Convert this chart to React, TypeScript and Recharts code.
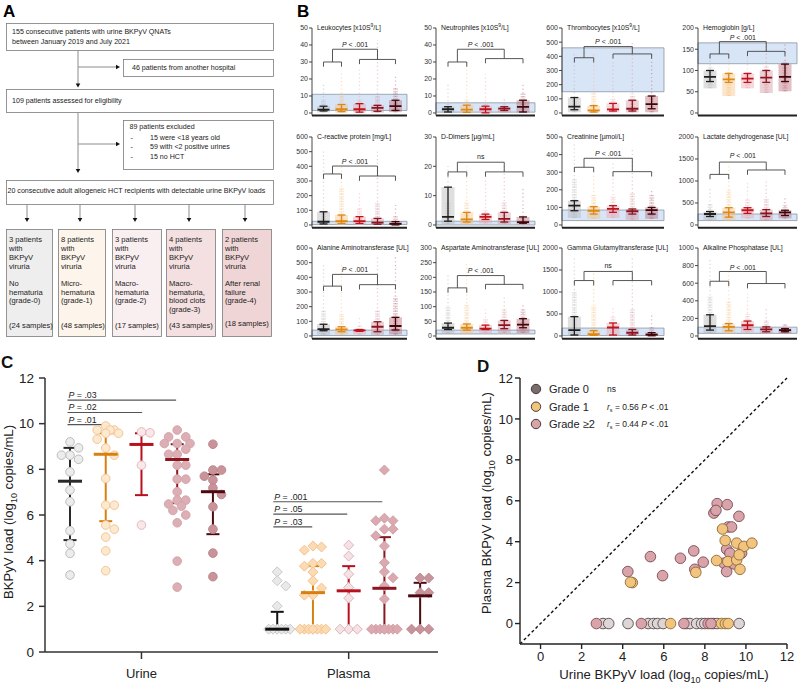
import React from 'react';
import { ComposedChart, Scatter, XAxis, YAxis, ErrorBar, ReferenceArea, ReferenceLine } from 'recharts';

const FONT = '"Liberation Sans", Arial, Helvetica, sans-serif';

// ---------------- Panel B data ----------------
const labTitles = [
  'Leukocytes [x10S^9/L]', 'Neutrophiles [x10S^9/L]', 'Thrombocytes [x10S^9/L]', 'Hemoglobin [g/L]',
  'C-reactive protein [mg/L]', 'D-Dimers [µg/mL]', 'Creatinine [µmol/L]', 'Lactate dehydrogenase [UL]',
  'Alanine Aminotransferase [UL]', 'Aspartate Aminotransferase [UL]', 'Gamma Glutamyltransferase [UL]', 'Alkaline Phosphatase [UL]',
];
const labMax = [50, 50, 600, 200, 600, 30, 500, 2000, 600, 300, 2000, 1000];
const labStep = [10, 10, 100, 50, 100, 10, 100, 500, 100, 50, 500, 200];
const labRefLo = [1.5, 0.5, 150, 116, 3, 0, 25, 100, 3, 7, 10, 30];
const labRefHi = [11, 6, 460, 165, 25, 1.3, 85, 250, 40, 20, 180, 100];
const labMedian = [
  [2, 2.2, 2.2, 3, 4], [2.2, 2, 2.2, 2.6, 3.6], [45, 18, 25, 30, 63], [85, 79, 81, 83, 85],
  [22, 27, 27, 16, 7], [2.75, 1.9, 2.75, 2.1, 1.0], [110, 81, 91, 78, 85], [250, 286, 335, 264, 286],
  [47, 45, 38, 63, 68], [28, 28, 25, 37, 39], [133, 44, 193, 74, 30], [111, 104, 122, 74, 67],
];
const labQ1 = [
  [1.2, 0.8, 0.5, 1, 1.5], [0.6, 0.4, 0.1, 1.5, 0.6], [23, 7, 14, 14, 30], [74, 72, 72, 72, 74],
  [7, 11, 11, 5, 0.5], [1.3, 1.0, 1.9, 1.0, 0.6], [81, 62, 72, 62, 62], [193, 178, 264, 193, 214],
  [36, 29, 32, 29, 41], [22, 20, 22, 25, 28], [22, 15, 22, 22, 5], [67, 59, 74, 48, 48],
];
const labQ3 = [
  [4, 5, 5.5, 4.5, 7.5], [3.7, 4.6, 4, 3.7, 7.5], [109, 52, 68, 90, 120], [100, 93, 93, 100, 115],
  [90, 68, 57, 45, 23], [12.9, 4.3, 3.7, 4.3, 2.75], [138, 104, 110, 91, 100], [306, 393, 393, 350, 335],
  [80, 63, 44, 97, 127], [44, 41, 37, 53, 59], [440, 122, 296, 148, 75], [241, 141, 170, 104, 83],
];
const labCloudMin = [
  [0.3, 0.2, 0.2, 0.2, 0.5], [0.2, 0.2, 0.1, 0.5, 0.3], [5, 3, 3, 3, 5], [58, 40, 58, 47, 51],
  [1, 1, 1, 1, 0.5], [0.3, 0.3, 0.5, 0.3, 0.2], [40, 35, 40, 30, 35], [100, 100, 150, 100, 150],
  [8, 8, 10, 8, 10], [8, 8, 10, 10, 10], [5, 5, 5, 5, 5], [30, 30, 40, 30, 30],
];
const labDenseTop = [
  [8, 12, 8, 10, 15], [5, 8, 6, 5, 12], [100, 150, 100, 130, 130], [110, 100, 95, 110, 120],
  [100, 250, 120, 150, 60], [8, 8, 5, 8, 3], [260, 170, 160, 180, 170], [500, 800, 600, 600, 450],
  [173, 150, 70, 177, 268], [100, 110, 60, 90, 90], [1000, 700, 450, 600, 200], [450, 400, 250, 180, 130],
];
const labCloudMax = [
  [18, 25, 26, 43, 22], [17, 30, 23, 8, 18], [415, 415, 380, 506, 415], [145, 148, 134, 171, 164],
  [510, 420, 227, 500, 136], [20.3, 20.3, 15.6, 20.3, 12.6], [470, 300, 350, 440, 200], [850, 1350, 950, 1000, 650],
  [485, 490, 125, 550, 550], [210, 255, 90, 130, 110], [1780, 1450, 700, 1800, 500], [870, 730, 480, 330, 150],
];
const labBracketL = [30, 30, 390, 139, 348, 18.1, 328, 1150, 340, 164, 1260, 622];
const labBracketR = [31.5, 32, 417, 145, 334, 18.1, 303, 1250, 350, 176, 1260, 596];
const labBracketTop = [37.5, 37.5, 469, 168, 402, 21.4, 379, 1430, 420, 206, 1467, 733];
const labPLevel = [40.5, 40.5, 505, 178, 436, 23.5, 405, 1590, 450, 222, 1600, 778];
const labSig = ['P < .001', 'P < .001', 'P < .001', 'P < .001', 'P < .001', 'ns', 'P < .001', 'P < .001', 'P < .001', 'P < .001', 'ns', 'P < .001'];

const grpLine = ['#1e1e1e', '#de8712', '#c1121c', '#8c1420', '#3f0508'];
const grpCloud = ['#b0b0b0', '#f4bd7c', '#eba1a8', '#cf8e99', '#b6606e'];

const colAxisX = [312, 436, 562, 698];
const colPlotW = [95, 99, 102, 99];
const rowTopY = [28, 137, 248];
const rowZeroY = [113, 225, 336];

// ---------------- Panel C data ----------------
const sampleTypes = ['Urine', 'Plasma'];
const urineX = [1, 2, 3, 4, 5];
const plasmaX = [6.8, 7.8, 8.8, 9.8, 10.8];
const urineVals = [
  [9.2, 8.94, 8.62, 8.62, 8.44, 7.89, 7.09, 6.58, 5.31, 4.73, 4.32, 3.37],
  [9.9, 9.72, 9.72, 9.72, 9.58, 9.58, 9.32, 8.93, 8.62, 7.6, 6.43, 6.43, 5.56, 5.38, 5.03, 4.43, 3.56],
  [9.64, 9.6, 8.18, 5.56],
  [9.72, 9.42, 9.42, 9.13, 9.13, 9.13, 8.88, 8.66, 8.66, 8.18, 8.18, 7.57, 7.57, 7.02, 6.65, 6.65, 6.48, 6.39, 6.2, 6.0, 5.66, 3.98, 2.84],
  [9.1, 7.97, 7.97, 7.7, 7.53, 7.18, 6.9, 6.36, 5.38, 4.33, 3.3],
];
const urineMean = [7.48, 8.66, 9.09, 8.43, 7.02];
const urineLow = [4.9, 5.73, 6.87, 6.52, 5.16];
const urineHigh = [8.94, 9.58, 9.58, 9.1, 7.78];
const plasmaVals = [
  [3.51, 3.12, 2.89, 2.01, 1, 1, 1, 1, 1, 1],
  [4.64, 4.6, 4.46, 3.88, 3.88, 3.76, 3.5, 3.12, 2.8, 2.49, 2.49, 1, 1, 1, 1, 1, 1, 1, 1],
  [4.68, 4.2, 3.41, 2.83, 2.36, 1, 1, 1],
  [7.97, 5.86, 5.75, 5.75, 5.38, 5.38, 5.09, 4.64, 3.91, 3.51, 3.25, 2.89, 2.32, 1, 1, 1, 1, 1, 1, 1, 1],
  [3.24, 3.24, 2.6, 2.6, 1, 1, 1],
];
const plasmaMean = [1.0, 2.6, 2.68, 2.79, 2.46];
const plasmaLow = [1, 1, 1, 1, 1];
const plasmaHigh = [1.76, 3.76, 3.76, 5.03, 3.03];
const cErr = ['#2a2a2a', '#d8800f', '#b8101c', '#8a1622', '#4c0a10'];
const cUrineFill = ['#ececec', '#fde8d0', '#f9e7e9', '#dcafb5', '#c9939a'];
const cUrineStroke = ['#bdbdbd', '#f3c794', '#e4b9be', '#d5a5ac', '#c08890'];
const cPlasmaFill = ['#e9e9e9', '#fbdab6', '#f6e2e5', '#dba9b0', '#c8949b'];
const cPlasmaStroke = ['#c9c9c9', '#f6c38a', '#dcb6bb', '#d3a0a7', '#bf8b92'];
const sigLabels = ['P = .03', 'P = .02', 'P = .01', 'P = .001', 'P = .05', 'P = .03'];
const sigFrom = [0.93, 0.93, 0.93, 6.69, 6.69, 6.69];
const sigTo = [3.97, 3.02, 2.01, 9.74, 8.76, 7.78];
const sigLevel = [11.03, 10.49, 9.96, 6.58, 6.04, 5.48];

// ---------------- Panel D data ----------------
const dGrade0 = [[3.04, 0], [3.32, 0], [4.26, 0], [5.24, 0], [5.5, 0], [5.7, 0], [5.97, 0], [7.1, 0], [7.27, 0], [7.6, 0], [7.84, 0], [8.0, 0], [8.41, 0], [8.6, 0], [9.67, 0]];
const dGrade1 = [[6.33, 0], [8.81, 0], [9.0, 0], [9.14, 0], [8.86, 4.62], [8.99, 4.06], [9.55, 3.93], [9.9, 3.77], [10.29, 3.93], [8.57, 3.08], [9.12, 3.03], [9.55, 3.11], [9.67, 3.36], [9.71, 2.65], [7.56, 2.5], [4.47, 2.0], [4.38, 2.02]];
const dGrade2 = [[2.72, 0], [4.91, 0], [6.98, 0], [8.16, 0], [8.3, 0], [8.6, 5.86], [8.44, 5.4], [8.54, 5.53], [9.09, 5.81], [9.66, 5.24], [9.14, 4.72], [9.3, 4.72], [5.35, 3.27], [6.81, 3.19], [7.46, 3.55], [7.92, 3.0], [7.51, 2.65], [5.94, 2.34], [9.06, 3.63], [9.22, 3.44], [8.93, 2.95], [9.06, 2.54], [9.43, 2.91], [9.79, 3.44], [4.25, 2.54]];
const dLegend = ['Grade 0', 'Grade 1', 'Grade ≥2'];
const dLegendFill = ['#7b6c6c', '#f3c47d', '#d9a3aa'];
const dLegendStat = ['ns', '0.56', '0.44'];
const dTicks = [0, 2, 4, 6, 8, 10, 12];

// ---------------- Panel A text ----------------
const gradeBoxLines = [
  ['3 patients', 'with', 'BKPyV', 'viruria', '', 'No', 'hematuria', '(grade-0)'],
  ['8 patients', 'with', 'BKPyV', 'viruria', '', 'Micro-', 'hematuria', '(grade-1)'],
  ['3 patients', 'with', 'BKPyV', 'viruria', '', 'Macro-', 'hematuria', '(grade-2)'],
  ['4 patients', 'with', 'BKPyV', 'viruria', '', 'Macro-', 'hematuria,', 'blood clots', '(grade-3)'],
  ['2 patients', 'with', 'BKPyV', 'viruria', '', 'After renal', 'failure', '(grade-4)'],
];
const gradeSamples = ['(24 samples)', '(48 samples)', '(17 samples)', '(43 samples)', '(18 samples)'];
const gradeFill = ['#eeeeee', '#fdf5eb', '#f9eef0', '#f4e0e1', '#efd5d6'];

function PanelA() {
  const t = { fontFamily: FONT, fontSize: 7.1, fill: '#222' } as any;
  const g = { fontFamily: FONT, fontSize: 7.6, fill: '#222' } as any;
  const lineY = [239.7, 248.5, 257.3, 266.1, 274.7, 283.3, 291.8, 300.3, 309];
  const bx = [6.5, 58.5, 112.5, 166.5, 222.5];
  const bw = [46, 47, 49, 49, 49];
  const ax = [27, 80, 135, 189, 245];
  const arrowDown = (x: number, tip: number) => <polygon points={`${x - 2.3},${tip - 4} ${x + 2.3},${tip - 4} ${x},${tip}`} fill="#111" />;
  const arrowRight = (tip: number, y: number) => <polygon points={`${tip - 4},${y - 2.3} ${tip - 4},${y + 2.3} ${tip},${y}`} fill="#111" />;
  return (
    <svg width={330} height={345} style={{ position: 'absolute', left: 0, top: 0 }}>
      <text x={3} y={17} fontFamily={FONT} fontWeight="bold" fontSize={17}>A</text>
      <text x={297} y={17} fontFamily={FONT} fontWeight="bold" fontSize={17}>B</text>
      <g stroke="#8c8c8c" strokeWidth={1}>
        <line x1={78} y1={50.5} x2={78} y2={84} />
        <line x1={78} y1={67} x2={116} y2={67} />
        <line x1={78} y1={112.5} x2={78} y2={169} />
        <line x1={78} y1={144} x2={116} y2={144} />
        {ax.map((x) => <line key={x} x1={x} y1={204.5} x2={x} y2={218} />)}
      </g>
      {arrowDown(78, 87.5)}
      {arrowRight(120, 67)}
      {arrowDown(78, 173)}
      {arrowRight(120, 144)}
      {ax.map((x) => <g key={'a' + x}>{arrowDown(x, 222)}</g>)}
      <g fill="#fff" stroke="#7a7a7a" strokeWidth={0.8}>
        <rect x={6.5} y={23.5} width={267} height={27} />
        <rect x={123.5} y={59.5} width={150} height={17} />
        <rect x={6.5} y={89.5} width={267} height={23} />
        <rect x={123.5} y={120.5} width={150} height={49} />
        <rect x={6.5} y={180.5} width={267} height={24} />
      </g>
      <text {...t} x={12} y={34.3}>155 consecutive patients with urine BKPyV QNATs</text>
      <text {...t} x={12} y={44.3}>between January 2019 and July 2021</text>
      <text {...t} x={132} y={70}>46 patients from another hospital</text>
      <text {...t} x={12} y={103.3}>109 patients assessed for eligibility</text>
      <text {...t} x={129.5} y={129.4}>89 patients excluded</text>
      {['15 were <18 years old', '59 with <2 positive urines', '15 no HCT'].map((s, k) => (
        <g key={s}>
          <text {...t} x={130.5} y={140 + k * 9.35}>-</text>
          <text {...t} x={150} y={140 + k * 9.35}>{s}</text>
        </g>
      ))}
      <text {...t} x={7.5} y={192.7}>20 consecutive adult allogeneic HCT recipients with detectable urine BKPyV loads</text>
      {gradeBoxLines.map((lines, k) => (
        <g key={'gb' + k}>
          <rect x={bx[k]} y={229.5} width={bw[k]} height={107} fill={gradeFill[k]} stroke="#7a7a7a" strokeWidth={0.8} />
          {lines.map((s, j) => s ? <text key={j} {...g} x={bx[k] + 2.5} y={lineY[j] + 2.7}>{s}</text> : null)}
          <text {...g} x={bx[k] + 2.5} y={(k === 4 ? 323 : 325.3) + 2.7}>{gradeSamples[k]}</text>
        </g>
      ))}
    </svg>
  );
}

function TitleText({ s }: { s: string }) {
  const k = s.indexOf('^');
  if (k < 0) return <>{s}</>;
  return (
    <>
      {s.slice(0, k)}
      <span style={{ fontSize: '5px', position: 'relative', top: '-3px' }}>{s[k + 1]}</span>
      {s.slice(k + 2)}
    </>
  );
}

function LabChart({ i }: { i: number }) {
  const col = i % 4;
  const row = Math.floor(i / 4);
  const max = labMax[i];
  const axisX = colAxisX[col];
  const plotW = colPlotW[col];
  const top = rowTopY[row];
  const span = rowZeroY[row] - top;
  const lo = -0.03 * max;
  const plotH = span * 1.03;
  const YW = 32, MT = 6, XH = 2, MR = 3;
  const ticks: number[] = [];
  for (let v = 0; v <= max + 1e-9; v += labStep[i]) ticks.push(v);
  const t = max * 0.055;
  const L = labBracketL[i], R = labBracketR[i], T = labBracketTop[i];
  const segs = [
    [[1, L], [2, L]], [[1, L], [1, L - t]], [[2, L], [2, L - t]],
    [[3, R], [5, R]], [[3, R], [3, R - t]], [[5, R], [5, R - t]],
    [[1.5, L], [1.5, T]], [[4, R], [4, T]], [[1.5, T], [4, T]],
  ];
  const groups = [0, 1, 2, 3, 4].map((gi) => {
    const med = labMedian[i][gi];
    const mn = labCloudMin[i][gi];
    return {
      x: gi + 1,
      y: med,
      core: [med - mn, labQ3[i][gi] - med],
      dense: [med - mn, labDenseTop[i][gi] - med],
      sparse: [med - mn, labCloudMax[i][gi] - med],
      iqr: [med - labQ1[i][gi], labQ3[i][gi] - med],
    };
  });
  const sig = labSig[i];
  return (
    <>
      <div style={{ position: 'absolute', left: axisX - YW, top: top - MT }}>
        <ComposedChart width={YW + plotW + MR} height={MT + plotH + XH} margin={{ top: MT, right: MR, bottom: 0, left: 0 }}>
          <XAxis type="number" dataKey="x" domain={[0.36, 5.64]} allowDataOverflow tick={false} tickLine={false} height={XH} axisLine={{ stroke: '#222', strokeWidth: 2 }} />
          <YAxis type="number" dataKey="y" domain={[lo, max]} ticks={ticks} interval={0} allowDataOverflow width={YW} tickSize={3} tickMargin={1}
            tick={{ fontSize: 7, fill: '#333', fontFamily: FONT }} axisLine={{ stroke: '#333', strokeWidth: 0.9 }} tickLine={{ stroke: '#333', strokeWidth: 0.9 }} />
          <ReferenceArea x1={0.36} x2={5.64} y1={labRefLo[i]} y2={labRefHi[i]} fill="#d7e5f6" fillOpacity={1} stroke="#8b97a4" strokeWidth={0.8} ifOverflow="visible" />
          {groups.map((gp, gi) => (
            <Scatter key={'g' + gi} data={[gp]} dataKey="y" isAnimationActive={false}
              shape={(p: any) => <line x1={p.cx - 6} x2={p.cx + 6} y1={p.cy} y2={p.cy} stroke={grpLine[gi]} strokeWidth={1.8} />}>
              <ErrorBar dataKey="sparse" direction="y" width={0} stroke={grpCloud[gi]} strokeWidth={1.3} strokeOpacity={0.45} strokeDasharray="1.2 2.6" />
              <ErrorBar dataKey="dense" direction="y" width={0} stroke={grpCloud[gi]} strokeWidth={5} strokeOpacity={0.3} strokeDasharray="1.5 1" />
              <ErrorBar dataKey="core" direction="y" width={0} stroke={grpCloud[gi]} strokeWidth={13} strokeOpacity={0.4} />
              <ErrorBar dataKey="iqr" direction="y" width={4} stroke={grpLine[gi]} strokeWidth={1.3} />
            </Scatter>
          ))}
          {segs.map((s, k) => (
            <ReferenceLine key={'s' + k} segment={[{ x: s[0][0], y: s[0][1] }, { x: s[1][0], y: s[1][1] }]} stroke="#444" strokeWidth={0.9} ifOverflow="visible" />
          ))}
          <Scatter data={[{ x: 2.75, y: labPLevel[i] }]} dataKey="y" isAnimationActive={false}
            shape={(p: any) => (
              <text x={p.cx} y={p.cy + 2.5} textAnchor="middle" fontSize={7} fontFamily={FONT} fill="#222">
                {sig === 'ns' ? 'ns' : (<><tspan fontStyle="italic">P</tspan>{sig.slice(1)}</>)}
              </text>
            )} />
        </ComposedChart>
      </div>
      <div style={{ position: 'absolute', left: axisX + 5, top: top - 4, fontFamily: FONT, fontSize: 6.9, lineHeight: '8px', color: '#222', whiteSpace: 'nowrap', letterSpacing: '-0.05px' }}>
        <TitleText s={labTitles[i]} />
      </div>
    </>
  );
}

function swarm(vals: number[], base: number, step: number) {
  const pxX = 35.7, pxY = 22.85, minD = 7.5;
  const placed: { x: number; y: number }[] = [];
  const cands = [0, 2, -2, 1, -1, 3, -3];
  return vals.map((v) => {
    let best = 0, bestD = -1;
    for (const c of cands) {
      const dx = c * step;
      let d = Infinity;
      for (const p of placed) {
        const dd = Math.hypot((p.x - dx) * pxX, (p.y - v) * pxY);
        if (dd < d) d = dd;
      }
      if (d >= minD) { best = c; bestD = d; break; }
      if (d > bestD) { bestD = d; best = c; }
    }
    placed.push({ x: best * step, y: v });
    return { x: base + best * step, y: v };
  });
}

function PanelC() {
  const circle = (fill: string, stroke: string) => (p: any) => <circle cx={p.cx} cy={p.cy} r={4.3} fill={fill} stroke={stroke} strokeWidth={1} />;
  const diamond = (fill: string, stroke: string) => (p: any) => (
    <polygon points={`${p.cx},${p.cy - 5} ${p.cx + 5},${p.cy} ${p.cx},${p.cy + 5} ${p.cx - 5},${p.cy}`} fill={fill} stroke={stroke} strokeWidth={1} />
  );
  const meanShape = (c: string) => (p: any) => <line x1={p.cx - 12} x2={p.cx + 12} y1={p.cy} y2={p.cy} stroke={c} strokeWidth={3} />;
  const tickFmt = (v: number) => (v < 5 ? sampleTypes[0] : sampleTypes[1]);
  return (
    <div style={{ position: 'absolute', left: 0, top: 365 }}>
      <ComposedChart width={445} height={321} margin={{ top: 13, right: 7, bottom: 0, left: 0 }}>
        <XAxis type="number" dataKey="x" domain={[0.3, 11.3]} allowDataOverflow ticks={[3, 8.8]} interval={0} tickFormatter={tickFmt}
          height={34} tickSize={7} tickMargin={10} tick={{ fontSize: 13, fill: '#222', fontFamily: FONT }}
          axisLine={{ stroke: '#333', strokeWidth: 1.5 }} tickLine={{ stroke: '#333', strokeWidth: 1.5 }} />
        <YAxis type="number" dataKey="y" domain={[0, 12]} allowDataOverflow ticks={[0, 2, 4, 6, 8, 10, 12]} interval={0} width={45}
          tickSize={6} tickMargin={5} tick={{ fontSize: 13.5, fill: '#222', fontFamily: FONT }}
          axisLine={{ stroke: '#333', strokeWidth: 1.5 }} tickLine={{ stroke: '#333', strokeWidth: 1.5 }} />
        {urineVals.map((vals, g) => (
          <Scatter key={'u' + g} data={swarm(vals, urineX[g], 0.12)} dataKey="y" isAnimationActive={false} shape={circle(cUrineFill[g], cUrineStroke[g])} />
        ))}
        {plasmaVals.map((vals, g) => (
          <Scatter key={'p' + g} data={swarm(vals, plasmaX[g], 0.12)} dataKey="y" isAnimationActive={false} shape={diamond(cPlasmaFill[g], cPlasmaStroke[g])} />
        ))}
        {urineMean.map((m, g) => (
          <Scatter key={'um' + g} data={[{ x: urineX[g], y: m, err: [m - urineLow[g], urineHigh[g] - m] }]} dataKey="y" isAnimationActive={false} shape={meanShape(cErr[g])}>
            <ErrorBar dataKey="err" direction="y" width={6.5} stroke={cErr[g]} strokeWidth={2} />
          </Scatter>
        ))}
        {plasmaMean.map((m, g) => (
          <Scatter key={'pm' + g} data={[{ x: plasmaX[g], y: m, err: [m - plasmaLow[g], plasmaHigh[g] - m] }]} dataKey="y" isAnimationActive={false} shape={meanShape(g === 0 ? '#111' : cErr[g])}>
            <ErrorBar dataKey="err" direction="y" width={6.5} stroke={g === 0 ? '#111' : cErr[g]} strokeWidth={2} />
          </Scatter>
        ))}
        {sigLabels.map((s, k) => (
          <ReferenceLine key={'sl' + k} segment={[{ x: sigFrom[k], y: sigLevel[k] }, { x: sigTo[k], y: sigLevel[k] }]} stroke="#555" strokeWidth={1.1} ifOverflow="visible" />
        ))}
        {sigLabels.map((s, k) => (
          <Scatter key={'st' + k} data={[{ x: sigFrom[k], y: sigLevel[k] }]} dataKey="y" isAnimationActive={false}
            shape={(p: any) => (
              <text x={p.cx + 1} y={p.cy - 2} fontSize={8.8} fontFamily={FONT} fill="#222">
                <tspan fontStyle="italic">P</tspan>{s.slice(1)}
              </text>
            )} />
        ))}
      </ComposedChart>
    </div>
  );
}

function PanelD() {
  const dot = (fill: string, stroke: string) => (p: any) => <circle cx={p.cx} cy={p.cy} r={5.3} fill={fill} stroke={stroke} strokeWidth={0.9} />;
  const toPts = (arr: number[][]) => arr.map((a) => ({ x: a[0], y: a[1] }));
  return (
    <div style={{ position: 'absolute', left: 480, top: 365 }}>
      <ComposedChart width={317} height={321} margin={{ top: 13, right: 10, bottom: 0, left: 0 }}>
        <XAxis type="number" dataKey="x" domain={[-1, 12]} allowDataOverflow ticks={dTicks} interval={0} height={42}
          tickSize={5} tickMargin={3} tick={{ fontSize: 13, fill: '#222', fontFamily: FONT }}
          axisLine={{ stroke: '#222', strokeWidth: 1.4 }} tickLine={{ stroke: '#222', strokeWidth: 1.4 }} />
        <YAxis type="number" dataKey="y" domain={[-1, 12]} allowDataOverflow ticks={dTicks} interval={0} width={40}
          tickSize={5} tickMargin={2} tick={{ fontSize: 13, fill: '#222', fontFamily: FONT }}
          axisLine={{ stroke: '#222', strokeWidth: 1.4 }} tickLine={{ stroke: '#222', strokeWidth: 1.4 }} />
        <ReferenceLine segment={[{ x: -1, y: -1 }, { x: 12, y: 12 }]} stroke="#111" strokeWidth={1.4} strokeDasharray="3 2.5" ifOverflow="visible" />
        <Scatter data={toPts(dGrade0)} dataKey="y" isAnimationActive={false} shape={dot('#dcd6d6', '#5a4646')} />
        <Scatter data={toPts(dGrade2)} dataKey="y" isAnimationActive={false} shape={dot('#d9a3aa', '#7a4a50')} />
        <Scatter data={toPts(dGrade1)} dataKey="y" isAnimationActive={false} shape={dot('#f3c47d', '#8a6a3a')} />
      </ComposedChart>
    </div>
  );
}

function PanelDLegend() {
  const ys = [9, 26.7, 44];
  return (
    <svg width={170} height={55} style={{ position: 'absolute', left: 525, top: 380 }}>
      {dLegend.map((s, k) => (
        <g key={s}>
          <circle cx={11} cy={ys[k]} r={4.7} fill={dLegendFill[k]} stroke="#3a2a2a" strokeWidth={0.9} />
          <text x={24} y={ys[k] + 4} fontSize={11} fontFamily={FONT} fill="#222">{s}</text>
          {k === 0 ? (
            <text x={82} y={ys[k] + 3} fontSize={8.5} fontFamily={FONT} fill="#222">{dLegendStat[k]}</text>
          ) : (
            <text x={82} y={ys[k] + 3} fontSize={8.5} fontFamily={FONT} fill="#222">
              <tspan fontStyle="italic">r</tspan><tspan fontSize={5.5} dy={1.8}>s</tspan><tspan dy={-1.8}> = {dLegendStat[k]} </tspan><tspan fontStyle="italic">P</tspan> &lt; .01
            </text>
          )}
        </g>
      ))}
    </svg>
  );
}

export default function App() {
  const lbl = { position: 'absolute', fontFamily: FONT, fontWeight: 'bold', fontSize: 17, color: '#111' } as any;
  const rot = (cx: number, cy: number, size: number) => ({
    position: 'absolute', left: cx, top: cy, transform: 'translate(-50%, -50%) rotate(-90deg)', whiteSpace: 'nowrap',
    fontFamily: FONT, fontSize: size, color: '#222',
  } as any);
  return (
    <div style={{ position: 'absolute', left: 0, top: 0, width: 800, height: 686, background: '#fff', overflow: 'hidden', fontFamily: FONT }}>
      <PanelA />
      {labTitles.map((_, i) => <LabChart key={i} i={i} />)}
      <PanelC />
      <PanelD />
      <PanelDLegend />
      <div style={{ ...lbl, left: 1, top: 353 }}>C</div>
      <div style={{ ...lbl, left: 477, top: 357 }}>D</div>
      <div style={rot(10, 512, 13.2)}>BKPyV load (log<sub style={{ fontSize: 9 }}>10</sub> copies/mL)</div>
      <div style={rot(488, 503, 13.2)}>Plasma BKPyV load (log<sub style={{ fontSize: 9 }}>10</sub> copies/mL)</div>
      <div style={{ position: 'absolute', left: 664, top: 676, transform: 'translate(-50%, -50%)', whiteSpace: 'nowrap', fontFamily: FONT, fontSize: 13.2, color: '#222' }}>
        Urine BKPyV load (log<sub style={{ fontSize: 9 }}>10</sub> copies/mL)
      </div>
    </div>
  );
}
